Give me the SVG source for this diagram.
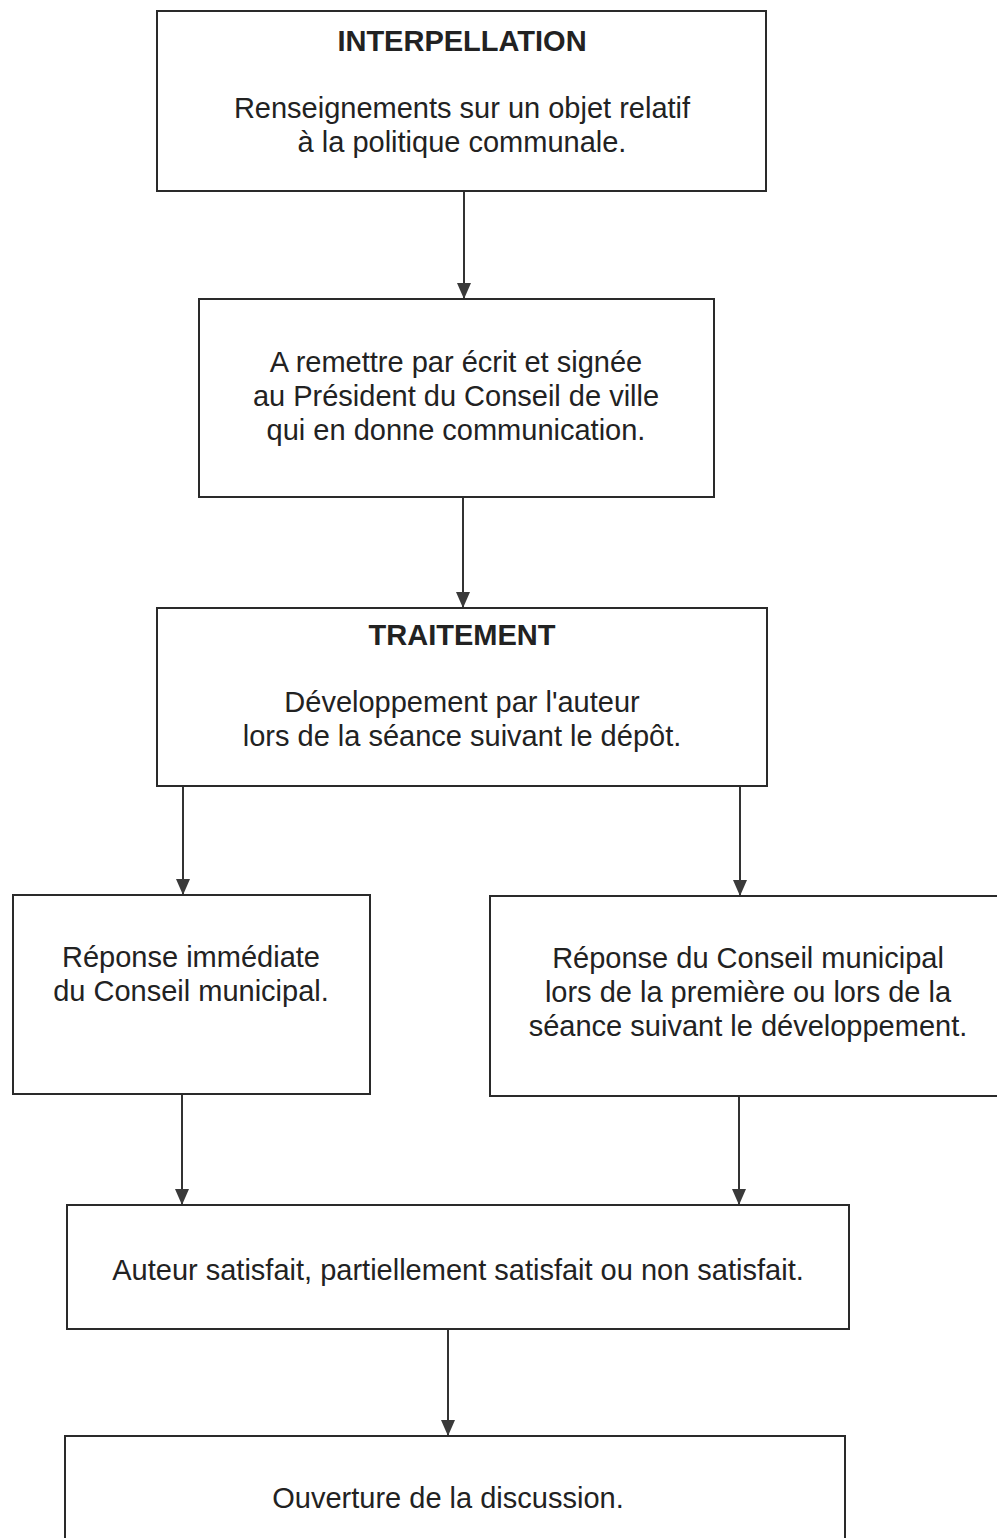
<svg xmlns="http://www.w3.org/2000/svg" width="997" height="1538" viewBox="0 0 997 1538">
<defs>
<style>
.box{fill:#fff;stroke:#2a2a2a;stroke-width:2}
.t{font-family:"Liberation Sans",Arial,sans-serif;font-size:29px;fill:#222;text-anchor:middle}
.b{font-weight:bold}
.c{stroke:#333;stroke-width:2;fill:none}
</style>
<marker id="ah" markerWidth="16" markerHeight="14" refX="16" refY="7" orient="auto" markerUnits="userSpaceOnUse" viewBox="0 0 16 14">
<path d="M0,0 L16,7 L0,14 Z" fill="#3a3a3a"/>
</marker>
</defs>
<rect width="997" height="1538" fill="#fff"/>
<g id="connectors">
<line class="c" x1="464" y1="191" x2="464" y2="299" marker-end="url(#ah)"/>
<line class="c" x1="463" y1="497" x2="463" y2="608" marker-end="url(#ah)"/>
<line class="c" x1="183" y1="786" x2="183" y2="895" marker-end="url(#ah)"/>
<line class="c" x1="740" y1="786" x2="740" y2="896" marker-end="url(#ah)"/>
<line class="c" x1="182" y1="1094" x2="182" y2="1205" marker-end="url(#ah)"/>
<line class="c" x1="739" y1="1096" x2="739" y2="1205" marker-end="url(#ah)"/>
<line class="c" x1="448" y1="1329" x2="448" y2="1436" marker-end="url(#ah)"/>
</g>
<g id="n1">
<rect class="box" x="157" y="11" width="609" height="180"/>
<text class="t b" x="462" y="51">INTERPELLATION</text>
<text class="t" x="462" y="118">Renseignements sur un objet relatif</text>
<text class="t" x="462" y="152">à la politique communale.</text>
</g>
<g id="n2">
<rect class="box" x="199" y="299" width="515" height="198"/>
<text class="t" x="456" y="372">A remettre par écrit et signée</text>
<text class="t" x="456" y="406">au Président du Conseil de ville</text>
<text class="t" x="456" y="440">qui en donne communication.</text>
</g>
<g id="n3">
<rect class="box" x="157" y="608" width="610" height="178"/>
<text class="t b" x="462" y="645">TRAITEMENT</text>
<text class="t" x="462" y="712">Développement par l'auteur</text>
<text class="t" x="462" y="746">lors de la séance suivant le dépôt.</text>
</g>
<g id="n4">
<rect class="box" x="13" y="895" width="357" height="199"/>
<text class="t" x="191" y="967">Réponse immédiate</text>
<text class="t" x="191" y="1001">du Conseil municipal.</text>
</g>
<g id="n5">
<rect class="box" x="490" y="896" width="520" height="200"/>
<text class="t" x="748" y="968">Réponse du Conseil municipal</text>
<text class="t" x="748" y="1002">lors de la première ou lors de la</text>
<text class="t" x="748" y="1036">séance suivant le développement.</text>
</g>
<g id="n6">
<rect class="box" x="67" y="1205" width="782" height="124"/>
<text class="t" x="458" y="1280">Auteur satisfait, partiellement satisfait ou non satisfait.</text>
</g>
<g id="n7">
<rect class="box" x="65" y="1436" width="780" height="120"/>
<text class="t" x="448" y="1508">Ouverture de la discussion.</text>
</g>
</svg>
